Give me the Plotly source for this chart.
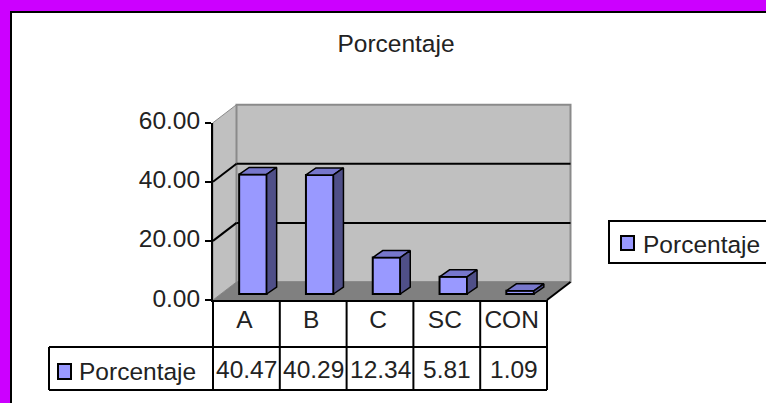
import plotly.graph_objects as go

categories = ["A", "B", "C", "SC", "CON"]
values = [40.47, 40.29, 12.34, 5.81, 1.09]
y_ticks = [0, 20, 40, 60]
series_name = "Porcentaje"

W, H = 766, 403
X0, X1 = 213, 547
Y0, Y60 = 300, 122.7
FONT = "Liberation Sans, Arial, sans-serif"
FS = 24.5
TXT = "#222222"

n = len(categories)
ux = (X1 - X0) / n            # px per category
uy = (Y0 - Y60) / 60          # px per value unit

WALL_DX, WALL_DY = 23.5 / ux, 18 / uy
BAR_W = 27.5 / ux
BAR_SHIFT = 6.5 / ux
BAR_BASE = 6 / uy
SIDE_DX, SIDE_DY = 10 / ux, 7 / uy

def px(x):
    return (X0 + (x + 0.5) * ux) / W
def py(y):
    return 1 - (Y0 - y * uy) / H
def fx(p):
    return p / W
def fy(p):
    return 1 - p / H

shapes = []
def poly(points, fill, line="rgba(0,0,0,0)", lw=0, layer="below"):
    d = "M" + "L".join(f"{a:.5f},{b:.5f}" for a, b in points) + "Z"
    shapes.append(dict(type="path", path=d, xref="paper", yref="paper",
                       fillcolor=fill, line=dict(color=line, width=lw), layer=layer))
def seg(a, b, c, d, color="black", lw=2, layer="above"):
    shapes.append(dict(type="line", x0=a, y0=b, x1=c, y1=d, xref="paper", yref="paper",
                       line=dict(color=color, width=lw), layer=layer))

# white chart frame on the magenta page
shapes.append(dict(type="rect", x0=fx(11), y0=fy(12), x1=fx(W + 5), y1=fy(H + 5),
                   xref="paper", yref="paper", fillcolor="white",
                   line=dict(color="black", width=2), layer="below"))

# 3D walls and floor
L, R = -0.5, n - 0.5
poly([(px(L), py(0)), (px(L + WALL_DX), py(WALL_DY)), (px(L + WALL_DX), py(60 + WALL_DY)),
      (px(L), py(60))], "#C0C0C0", "#8a8a8a", 1)
poly([(px(L + WALL_DX), py(WALL_DY)), (px(R + WALL_DX), py(WALL_DY)),
      (px(R + WALL_DX), py(60 + WALL_DY)), (px(L + WALL_DX), py(60 + WALL_DY))],
     "#C0C0C0", "#8a8a8a", 2)
poly([(px(L), py(0)), (px(R), py(0)), (px(R + WALL_DX), py(WALL_DY)), (px(L + WALL_DX), py(WALL_DY))],
     "#808080")
for t in y_ticks[1:3]:
    seg(px(L), py(t), px(L + WALL_DX), py(t + WALL_DY), layer="below")
    seg(px(L + WALL_DX), py(t + WALL_DY), px(R + WALL_DX), py(t + WALL_DY), layer="below")
seg(px(R), py(0), px(R + WALL_DX), py(WALL_DY), layer="below")

# data table grid
T1, T2 = 347, 390
seg(fx(49), fy(T1), px(R), fy(T1))
seg(fx(49), fy(T2), px(R), fy(T2))
seg(fx(49), fy(T1), fx(49), fy(T2))
for i in range(n + 1):
    e = L + i
    seg(px(e), py(0), px(e), fy(T2))
# table legend key
shapes.append(dict(type="rect", x0=fx(58), y0=fy(364), x1=fx(71), y1=fy(379),
                   xref="paper", yref="paper", fillcolor="#9999FF",
                   line=dict(color="black", width=2), layer="above"))

fig = go.Figure()

xs = list(range(n))
fig.add_trace(go.Bar(
    x=xs, y=values, base=[BAR_BASE] * n, width=BAR_W,
    offset=BAR_SHIFT - BAR_W / 2, name=series_name, cliponaxis=False,
    marker=dict(color="#9999FF", line=dict(color="black", width=2)),
    showlegend=False,
))

# top and side faces of each bar, computed from the values
for x, v in zip(xs, values):
    a = x + BAR_SHIFT - BAR_W / 2
    b = a + BAR_W
    lo = BAR_BASE
    hi = BAR_BASE + v
    fig.add_trace(go.Scatter(
        x=[a, a + SIDE_DX, b + SIDE_DX, b, a],
        y=[hi, hi + SIDE_DY, hi + SIDE_DY, hi, hi],
        mode="lines", fill="toself", fillcolor="#7777CC",
        line=dict(color="black", width=1.5), cliponaxis=False,
        showlegend=False, hoverinfo="skip"))
    fig.add_trace(go.Scatter(
        x=[b, b + SIDE_DX, b + SIDE_DX, b, b],
        y=[lo, lo + SIDE_DY, hi + SIDE_DY, hi, lo],
        mode="lines", fill="toself", fillcolor="#4F4F88",
        line=dict(color="black", width=1.5), cliponaxis=False,
        showlegend=False, hoverinfo="skip"))

# side legend box (runs off the right edge as in the reference)
shapes.append(dict(type="rect", x0=fx(609), y0=fy(221), x1=fx(W + 6), y1=fy(263),
                   xref="paper", yref="paper", fillcolor="white",
                   line=dict(color="black", width=2), layer="below"))
shapes.append(dict(type="rect", x0=fx(621), y0=fy(236), x1=fx(634), y1=fy(250),
                   xref="paper", yref="paper", fillcolor="#9999FF",
                   line=dict(color="black", width=2), layer="above"))

annotations = [
    dict(x=x, y=fy(369), xref="x", yref="paper", text=f"{v:.2f}", showarrow=False,
         xanchor="center", yanchor="middle", font=dict(family=FONT, size=FS, color=TXT))
    for x, v in zip(xs, values)
]
annotations.append(dict(x=fx(77), y=fy(371), xref="paper", yref="paper", text=series_name,
                        showarrow=False, xanchor="left", yanchor="middle",
                        font=dict(family=FONT, size=FS, color=TXT)))
annotations.append(dict(x=fx(641), y=fy(244), xref="paper", yref="paper", text=series_name,
                        showarrow=False, xanchor="left", yanchor="middle",
                        font=dict(family=FONT, size=FS, color=TXT)))

fig.update_layout(
    width=W, height=H, autosize=False,
    margin=dict(l=0, r=0, t=0, b=0, pad=0),
    showlegend=False,
    paper_bgcolor="#CC00FF", plot_bgcolor="rgba(0,0,0,0)",
    font=dict(family=FONT, size=FS, color=TXT),
    title=dict(text=series_name, x=396 / W, xanchor="center", y=fy(43), yanchor="middle",
               font=dict(family=FONT, size=FS, color=TXT)),
    xaxis=dict(domain=[fx(X0), fx(X1)], range=[L, R], tickmode="array", tickvals=xs,
               ticktext=categories, ticks="", ticklabelstandoff=-3, ticklabelshift=-2,
               automargin=False,
               showgrid=False, zeroline=False, showline=True, linecolor="black", linewidth=2,
               tickfont=dict(family=FONT, size=FS, color=TXT)),
    yaxis=dict(domain=[fy(Y0), fy(Y60)], range=[0, 60], tickmode="array", tickvals=y_ticks,
               ticktext=[f"{t:.2f}" for t in y_ticks], ticks="outside", ticklen=6, tickwidth=2,
               ticklabelshift=-2,
               automargin=False,
               tickcolor="black", showgrid=False, zeroline=False, showline=True,
               linecolor="black", linewidth=2,
               tickfont=dict(family=FONT, size=FS, color=TXT)),
    shapes=shapes, annotations=annotations,
)

fig.write_html("out.html", config={"displayModeBar": False},
               post_script="document.body.style.margin='0';document.body.style.overflow='hidden';")
